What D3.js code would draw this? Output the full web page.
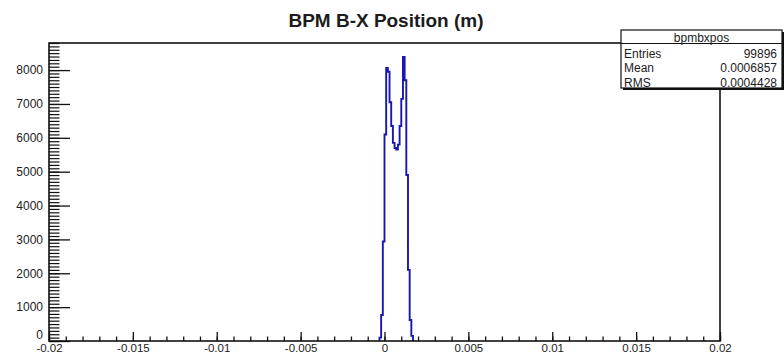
<!DOCTYPE html>
<html>
<head>
<meta charset="utf-8">
<script src="https://cdn.jsdelivr.net/npm/d3@7"></script>
<style>
  html, body { margin: 0; padding: 0; background: #fff; }
  svg { display: block; }
  text { font-family: "Liberation Sans", Arial, Helvetica, sans-serif; fill: #1c1c1c; }
</style>
</head>
<body>
<svg id="chart" width="784" height="355"></svg>
<script>
// Histogram of beam position: 0.0001 m bins, only the non-empty bins are listed
const binLow = [-0.0003, -0.0002, -0.0001, 0.0000, 0.0001, 0.0002, 0.0003, 0.0004, 0.0005, 0.0006,
                0.0007, 0.0008, 0.0009, 0.0010, 0.0011, 0.0012, 0.0013, 0.0014, 0.0015, 0.0016];
const counts = [100, 770, 2940, 6100, 8060, 7950, 7050, 6350, 5850, 5700,
                5650, 5800, 6350, 7150, 8390, 7700, 4900, 2100, 620, 150];
const binWidth = 0.0001;

const xRange = [-0.02, 0.02];
const xTickValues = [-0.02, -0.015, -0.01, -0.005, 0, 0.005, 0.01, 0.015, 0.02];
const xTickLabels = ["-0.02", "-0.015", "-0.01", "-0.005", "0", "0.005", "0.01", "0.015", "0.02"];
const yMax = 8800;
const yTickValues = [0, 1000, 2000, 3000, 4000, 5000, 6000, 7000, 8000];
const yTickLabels = ["0", "1000", "2000", "3000", "4000", "5000", "6000", "7000", "8000"];

const title = "BPM B-X Position (m)";
const statsName = "bpmbxpos";
const statsLabels = ["Entries", "Mean", "RMS"];
const statsValues = ["99896", "0.0006857", "0.0004428"];

const frame = { left: 49, right: 720, top: 43, bottom: 341 };
const svg = d3.select("#chart");

const x = d3.scaleLinear().domain(xRange).range([frame.left, frame.right]);
const y = d3.scaleLinear().domain([0, yMax]).range([frame.bottom, frame.top]);

// Step outline of the histogram
const pts = [];
pts.push([x(binLow[0]), y(0)]);
binLow.forEach((lo, i) => {
  pts.push([x(lo), y(counts[i])]);
  pts.push([x(lo + binWidth), y(counts[i])]);
});
pts.push([x(binLow[binLow.length - 1] + binWidth), y(0)]);
svg.append("path")
  .attr("d", d3.line()(pts))
  .attr("fill", "none")
  .attr("stroke", "#1818b0")
  .attr("stroke-width", 1.9)
  .attr("stroke-linejoin", "miter");

// X axis: major ticks with labels, minor ticks every 0.001
const xMinor = d3.range(-20, 21).map(d => d / 1000);
svg.append("g")
  .attr("transform", `translate(0,${frame.bottom})`)
  .call(d3.axisBottom(x).tickValues(xMinor).tickSizeInner(-4.5).tickSizeOuter(0).tickFormat(""))
  .call(g => g.select(".domain").remove())
  .call(g => g.selectAll("line").attr("stroke", "#111").attr("stroke-width", 1.3));
svg.append("g")
  .attr("transform", `translate(0,${frame.bottom})`)
  .call(d3.axisBottom(x).tickValues(xTickValues).tickSizeInner(-9).tickSizeOuter(0)
        .tickPadding(3).tickFormat((d, i) => xTickLabels[i]))
  .call(g => g.select(".domain").remove())
  .call(g => g.selectAll("line").attr("stroke", "#111").attr("stroke-width", 1.3))
  .call(g => g.selectAll("text").attr("font-size", 11.5).attr("fill", "#333")
        .attr("font-family", "Liberation Sans, Arial, sans-serif"));

// Y axis: major ticks every 1000, minor ticks every 100
const yMinor = d3.range(0, yMax + 1, 100);
svg.append("g")
  .attr("transform", `translate(${frame.left},0)`)
  .call(d3.axisLeft(y).tickValues(yMinor).tickSizeInner(-10.5).tickSizeOuter(0).tickFormat(""))
  .call(g => g.select(".domain").remove())
  .call(g => g.selectAll("line").attr("stroke", "#111").attr("stroke-width", 1.2));
svg.append("g")
  .attr("transform", `translate(${frame.left},0)`)
  .call(d3.axisLeft(y).tickValues(yTickValues).tickSizeInner(-21).tickSizeOuter(0)
        .tickPadding(6).tickFormat((d, i) => yTickLabels[i]))
  .call(g => g.select(".domain").remove())
  .call(g => g.selectAll("line").attr("stroke", "#111").attr("stroke-width", 1.3))
  .call(g => g.selectAll("text").attr("font-size", 12).attr("fill", "#333")
        .attr("font-family", "Liberation Sans, Arial, sans-serif"))
  // lift the zero label so it clears the first x label
  .call(g => g.selectAll("text").filter(d => d === 0).attr("dy", "-0.17em"));

// Frame
svg.append("rect")
  .attr("x", frame.left).attr("y", frame.top)
  .attr("width", frame.right - frame.left).attr("height", frame.bottom - frame.top)
  .attr("fill", "none").attr("stroke", "#111").attr("stroke-width", 1.6);

// Title
svg.append("text")
  .attr("x", 386).attr("y", 27)
  .attr("text-anchor", "middle")
  .attr("font-size", 19).attr("font-weight", "bold")
  .attr("textLength", 195).attr("lengthAdjust", "spacingAndGlyphs")
  .text(title);

// Statistics box
const box = { x: 621, y: 30, w: 161, h: 58, head: 13.5 };
const sb = svg.append("g");
sb.append("rect").attr("x", box.x + 2).attr("y", box.y + 2).attr("width", box.w).attr("height", box.h)
  .attr("fill", "#111");
sb.append("rect").attr("x", box.x).attr("y", box.y).attr("width", box.w).attr("height", box.h)
  .attr("fill", "#fff").attr("stroke", "#111").attr("stroke-width", 1.2);
sb.append("line").attr("x1", box.x).attr("x2", box.x + box.w)
  .attr("y1", box.y + box.head).attr("y2", box.y + box.head)
  .attr("stroke", "#111").attr("stroke-width", 1.2);
sb.append("text").attr("x", box.x + box.w / 2).attr("y", box.y + 11.5)
  .attr("text-anchor", "middle").attr("font-size", 12).text(statsName);
statsLabels.forEach((lab, i) => {
  const ty = box.y + 27.5 + i * 14.5;
  sb.append("text").attr("x", box.x + 3).attr("y", ty).attr("font-size", 12).text(lab);
  sb.append("text").attr("x", box.x + box.w - 5).attr("y", ty)
    .attr("text-anchor", "end").attr("font-size", 12).text(statsValues[i]);
});
</script>
</body>
</html>
